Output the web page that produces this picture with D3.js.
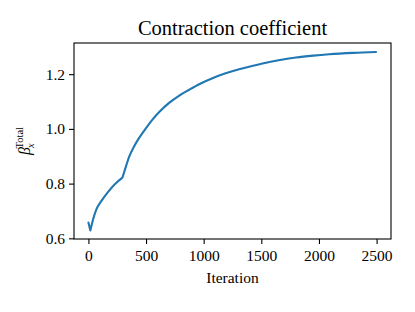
<!DOCTYPE html>
<html>
<head>
<meta charset="utf-8">
<script src="https://cdn.jsdelivr.net/npm/d3@7"></script>
<style>
  body { margin: 0; background: #fff; }
  svg { display: block; }
  text { font-family: "Liberation Serif", "DejaVu Serif", serif; fill: #000; }
</style>
</head>
<body>
<svg id="chart" width="415" height="312"></svg>
<script>
// values
var iterations = [0, 17, 41, 69, 113, 171, 229, 295, 325, 353, 395, 440, 500, 556, 625, 700,
                  785, 874, 970, 1076, 1190, 1307, 1410, 1510, 1650, 1800, 1950, 2089, 2300, 2495];
var beta = [0.658, 0.629, 0.670, 0.706, 0.737, 0.770, 0.798, 0.822, 0.862, 0.898, 0.935, 0.967, 1.003, 1.034, 1.066, 1.095,
            1.121, 1.143, 1.165, 1.185, 1.203, 1.218, 1.229, 1.239, 1.251, 1.261, 1.268, 1.273, 1.278, 1.281];
// iterations where the curve has a corner
var breaks = [17, 295];
var xTicks = [0, 500, 1000, 1500, 2000, 2500];
var yTicks = [0.6, 0.8, 1.0, 1.2];

var margin = {top: 43, right: 24, bottom: 73, left: 74},
    width = 415 - margin.left - margin.right,
    height = 312 - margin.top - margin.bottom;

var svg = d3.select("#chart");
var g = svg.append("g")
    .attr("transform", "translate(" + margin.left + "," + margin.top + ")");

var x = d3.scaleLinear().domain([-125, 2625]).range([0, width]);
var y = d3.scaleLinear().domain([0.5975, 1.314]).range([height, 0]);

var data = iterations.map(function(d, i) { return {it: d, v: beta[i]}; });

// split into smooth pieces at the corners
var pieces = [], cur = [];
data.forEach(function(d) {
  cur.push(d);
  if (breaks.indexOf(d.it) != -1) { pieces.push(cur); cur = [d]; }
});
pieces.push(cur);

var line = d3.line()
    .x(function(d) { return x(d.it); })
    .y(function(d) { return y(d.v); })
    .curve(d3.curveMonotoneX);

g.append("path")
    .attr("fill", "none")
    .attr("stroke", "#1f77b4")
    .attr("stroke-width", 2.1)
    .attr("stroke-linejoin", "round")
    .attr("stroke-linecap", "round")
    .attr("d", pieces.map(function(p) { return line(p); }).join(""));

var xAxis = d3.axisBottom(x).tickValues(xTicks).tickSize(5).tickPadding(4)
    .tickFormat(d3.format("d"));
var yAxis = d3.axisLeft(y).tickValues(yTicks).tickSize(5).tickPadding(4)
    .tickFormat(d3.format(".1f"));

var gx = g.append("g").attr("transform", "translate(0," + height + ")").call(xAxis);
var gy = g.append("g").call(yAxis);

[gx, gy].forEach(function(a) {
  a.select(".domain").remove();
  a.selectAll("line").attr("stroke", "#000").attr("stroke-width", 1.1);
  a.selectAll("text").style("font-size", "15.5px").attr("fill", "#000");
});
gx.selectAll("text").attr("dy", "0.85em");

// frame
g.append("rect")
    .attr("width", width).attr("height", height)
    .attr("fill", "none").attr("stroke", "#000").attr("stroke-width", 1.1);

svg.append("text")
    .attr("x", margin.left + width / 2).attr("y", 35)
    .attr("text-anchor", "middle")
    .style("font-size", "20.5px")
    .text("Contraction coefficient");

svg.append("text")
    .attr("x", margin.left + width / 2).attr("y", 283)
    .attr("text-anchor", "middle")
    .style("font-size", "15.5px")
    .text("Iteration");

var yl = svg.append("text")
    .attr("transform", "translate(30," + (margin.top + height / 2) + ") rotate(-90)")
    .attr("text-anchor", "middle")
    .attr("fill", "#555");
yl.append("tspan").style("font-style", "italic").style("font-size", "16px").text("β");
yl.append("tspan").attr("dy", "4").attr("dx", "-1").style("font-style", "italic").style("font-size", "10.5px").text("x");
yl.append("tspan").attr("dy", "-11").attr("dx", "-5").style("font-size", "10.5px").text("Total");
</script>
</body>
</html>
